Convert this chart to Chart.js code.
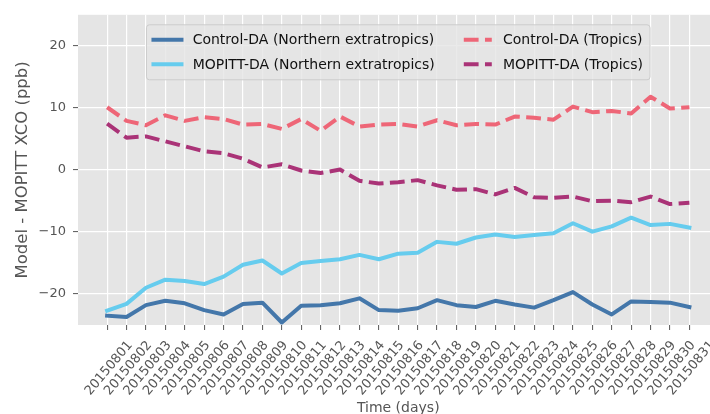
<!DOCTYPE html>
<html>
<head>
<meta charset="utf-8">
<script src="https://cdn.jsdelivr.net/npm/chart.js@4/dist/chart.umd.min.js"></script>
<style>
  html, body { margin: 0; padding: 0; background: #fff; overflow: hidden; }
  #wrap { width: 722px; height: 420px; }
</style>
</head>
<body>
<div id="wrap"><canvas id="c"></canvas></div>
<script>
// Model minus MOPITT XCO, daily means for August 2015

const dates = [
  '20150801', '20150802', '20150803', '20150804', '20150805', '20150806', '20150807', '20150808',
  '20150809', '20150810', '20150811', '20150812', '20150813', '20150814', '20150815', '20150816',
  '20150817', '20150818', '20150819', '20150820', '20150821', '20150822', '20150823', '20150824',
  '20150825', '20150826', '20150827', '20150828', '20150829', '20150830', '20150831',
];

const controlNH = [-23.5, -23.7, -21.8, -21.1, -21.5, -22.6, -23.3, -21.6, -21.4, -24.6, -21.9,
  -21.8, -21.5, -20.7, -22.6, -22.7, -22.3, -21.0, -21.8, -22.1, -21.1,
  -21.7, -22.2, -21.0, -19.7, -21.7, -23.3, -21.2, -21.3, -21.4, -22.1];

const mopittNH = [-22.7, -21.6, -19.0, -17.7, -17.9, -18.4, -17.2, -15.3, -14.6, -16.7, -15.0,
  -14.7, -14.4, -13.7, -14.4, -13.5, -13.35, -11.6, -11.9, -10.9, -10.4,
  -10.8, -10.5, -10.2, -8.6, -9.95, -9.1, -7.7, -8.9, -8.7, -9.3];

const controlTropics = [10.1, 7.9, 7.2, 8.8, 7.9, 8.5, 8.2, 7.3, 7.4, 6.6, 8.2,
  6.3, 8.6, 7.0, 7.3, 7.4, 7.0, 8.0, 7.2, 7.4, 7.3,
  8.6, 8.4, 8.1, 10.2, 9.3, 9.5, 9.1, 11.8, 9.9, 10.1];

const mopittTropics = [7.45, 5.2, 5.4, 4.6, 3.8, 3.0, 2.7, 1.8, 0.4, 0.9, -0.1,
  -0.5, 0.05, -1.75, -2.2, -2.0, -1.65, -2.5, -3.2, -3.1, -3.95,
  -2.9, -4.4, -4.5, -4.3, -5.05, -4.95, -5.2, -4.3, -5.5, -5.3];

const yTicks = [-20, -10, 0, 10, 20];

const seriesLabels = [
  'Control-DA (Northern extratropics)',
  'MOPITT-DA (Northern extratropics)',
  'Control-DA (Tropics)',
  'MOPITT-DA (Tropics)',
];

const DASH = [14.8, 6.4];
const TEXT = '#555555';

function toPoints(values) {
  return dates.map((_, i) => ({ x: i, y: values[i] }));
}

function series(label, values, color, dashed) {
  return {
    label,
    data: toPoints(values),
    borderColor: color,
    backgroundColor: color,
    borderWidth: 4,
    borderDash: dashed ? DASH : [],
    borderCapStyle: dashed ? 'butt' : 'square',
    borderJoinStyle: 'round',
    pointRadius: 0,
    tension: 0,
    fill: false,
  };
}

// grey ggplot-ish panel behind grid and lines
const panelBg = {
  id: 'panelBg',
  beforeDraw(chart) {
    const { ctx, chartArea: a } = chart;
    ctx.save();
    ctx.fillStyle = '#e5e5e5';
    ctx.fillRect(a.left, a.top, a.right - a.left, a.bottom - a.top);
    ctx.restore();
  },
};

// two-column legend inside the panel, filled column by column like matplotlib
const innerLegend = {
  id: 'innerLegend',
  afterDraw(chart) {
    const { ctx, chartArea: a } = chart;
    const ds = chart.data.datasets;
    const fs = 14;
    const pad = 7, handle = 2 * fs, hpad = 0.8 * fs, colGap = 29;
    const cols = [[0, 1], [2, 3]];

    ctx.save();
    ctx.font = fs + 'px "DejaVu Sans"';
    const colW = cols.map(c => Math.max(...c.map(i => ctx.measureText(ds[i].label).width)));
    const width = pad * 2 + (handle + hpad) * 2 + colW[0] + colGap + colW[1];
    const height = 55;
    const left = (a.left + a.right) / 2 - width / 2;
    const top = a.top + 10;

    ctx.beginPath();
    ctx.roundRect(left, top, width, height, 3);
    ctx.fillStyle = 'rgba(229,229,229,0.8)';
    ctx.fill();
    ctx.lineWidth = 1;
    ctx.strokeStyle = '#cccccc';
    ctx.stroke();

    let x = left + pad;
    cols.forEach((c, ci) => {
      c.forEach((idx, row) => {
        const d = ds[idx];
        const y = top + 15 + row * 24.5;
        ctx.beginPath();
        ctx.lineWidth = d.borderWidth;
        ctx.strokeStyle = d.borderColor;
        ctx.lineCap = d.borderCapStyle;
        ctx.setLineDash(d.borderDash);
        ctx.moveTo(x, y);
        ctx.lineTo(x + handle, y);
        ctx.stroke();
        ctx.setLineDash([]);
        ctx.fillStyle = '#111';
        ctx.textBaseline = 'middle';
        ctx.textAlign = 'left';
        ctx.fillText(d.label, x + handle + hpad, y + 1);
      });
      x += handle + hpad + colW[ci] + colGap;
    });
    ctx.restore();
  },
};

Chart.defaults.font.family = '"DejaVu Sans", sans-serif';
Chart.defaults.color = TEXT;

new Chart(document.getElementById('c'), {
  type: 'line',
  data: {
    datasets: [
      series(seriesLabels[0], controlNH, '#4477aa', false),
      series(seriesLabels[1], mopittNH, '#66ccee', false),
      series(seriesLabels[2], controlTropics, '#ee6677', true),
      series(seriesLabels[3], mopittTropics, '#aa3377', true),
    ],
  },
  options: {
    responsive: true,
    maintainAspectRatio: false,
    animation: false,
    layout: { padding: { top: 14, right: 3.5, bottom: 0, left: 0 } },
    plugins: {
      legend: { display: false },
      tooltip: { enabled: false },
    },
    scales: {
      x: {
        type: 'linear',
        min: -1.5,
        max: 31.5,
        afterBuildTicks: s => { s.ticks = dates.map((_, i) => ({ value: i })); },
        afterFit: s => { s.height = 95; },
        ticks: {
          autoSkip: false,
          minRotation: 50,
          maxRotation: 50,
          padding: 8,
          labelOffset: 23,
          color: TEXT,
          font: { size: 13 },
          callback: v => dates[v],
        },
        grid: { color: '#ffffff', lineWidth: 1.2, tickColor: TEXT, tickLength: 5, tickWidth: 1 },
        border: { display: false },
        title: { display: true, text: 'Time (days)', color: TEXT, font: { size: 14 }, padding: { top: 0, bottom: 3.6 } },
      },
      y: {
        min: -25,
        max: 25,
        afterBuildTicks: s => { s.ticks = yTicks.map(v => ({ value: v })); },
        afterFit: s => { s.width = 78; },
        ticks: {
          padding: 7,
          color: TEXT,
          font: { size: 13 },
          callback: v => String(v).replace('-', '\u2212'),
        },
        grid: { color: '#ffffff', lineWidth: 1.2, tickColor: TEXT, tickLength: 5, tickWidth: 1 },
        border: { display: false },
        title: { display: true, text: 'Model - MOPITT XCO (ppb)', color: TEXT, font: { size: 16.5 }, padding: { top: 12.5, bottom: 0 } },
      },
    },
  },
  plugins: [panelBg, innerLegend],
});
</script>
</body>
</html>
